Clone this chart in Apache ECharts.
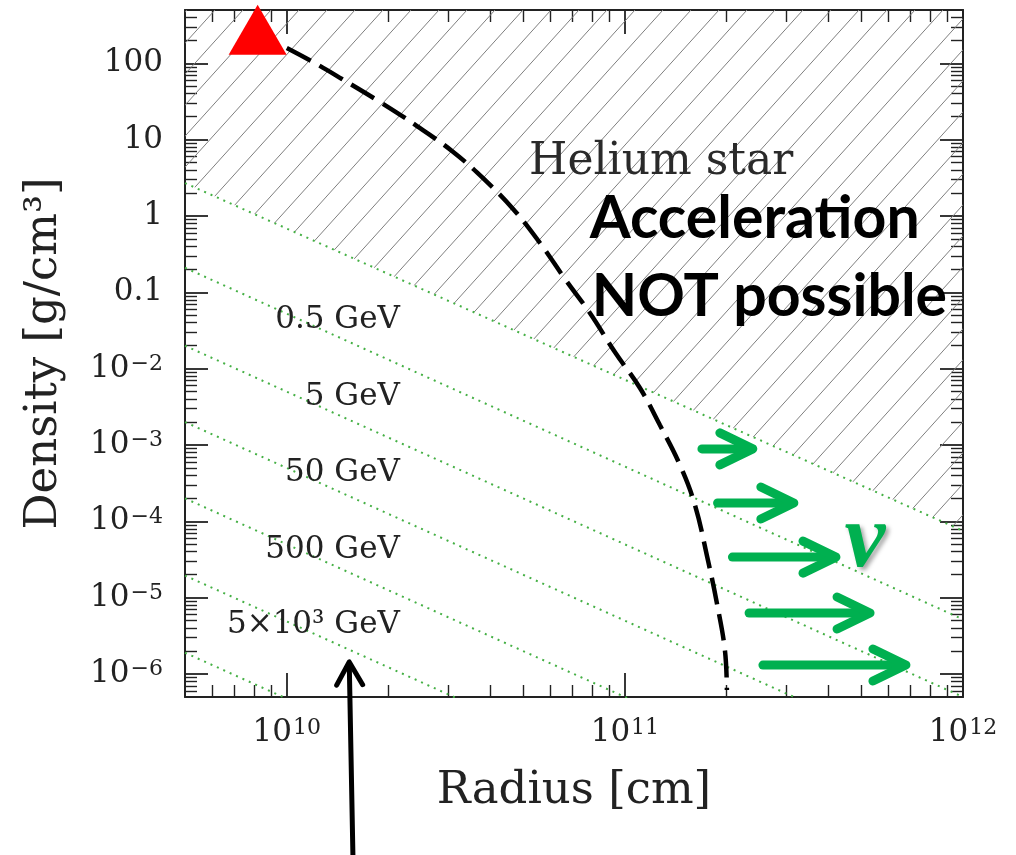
<!DOCTYPE html>
<html>
<head>
<meta charset="utf-8">
<script src="https://cdn.jsdelivr.net/npm/echarts@6/dist/echarts.min.js"></script>
<style>
  html, body { margin: 0; padding: 0; background: #fff; }
  #chart { width: 1016px; height: 855px; }
</style>
</head>
<body>
<div id="chart"></div>
<script>
var L = Math.log10;

// axis ranges (real units)
var rMin = 5e9, rMax = 1e12;
var rhoMin = 5e-7, rhoMax = 500;
var xMajor = [10, 11, 12];
var yMajor = [-6, -5, -4, -3, -2, -1, 0, 1, 2];

// density profile of the star (dashed curve)
var profR = [1.00e10, 1.196e10, 1.456e10, 1.886e10, 2.427e10, 3.08e10, 3.80e10, 4.67e10, 5.61e10, 6.65e10,
  7.88e10, 9.34e10, 1.108e11, 1.269e11, 1.455e11, 1.611e11, 1.760e11, 1.871e11, 1.976e11, 2.003e11];
var profRho = [159, 104, 62.4, 31.2, 15.1, 7.11, 3.15, 1.24, 0.443, 0.150,
  0.0536, 0.0165, 5.58e-3, 1.83e-3, 5.47e-4, 1.64e-4, 3.11e-5, 8.5e-6, 2.06e-6, 6.17e-7];

// red triangle (core)
var coreR = [8.2e9];
var coreRho = [275];

// energy lines: density at R = 5e9 and at R = 1e12 (first one bounds the hatched zone)
var lineRhoLeft = [2.7, 0.21, 0.020, 2.0e-3, 2.0e-4, 1.95e-5, 1.9e-6];
var lineRhoRight = [7.5e-5, 5.2e-6, 5.0e-7, 5.0e-8, 5.0e-9, 4.9e-10, 4.8e-11];

// energy labels
var gevText = ['0.5 GeV', '5 GeV', '50 GeV', '500 GeV', '5×10³ GeV'];
var gevR = [2.16e10, 2.16e10, 2.16e10, 2.16e10, 2.16e10];
var gevRho = [0.0435, 4.26e-3, 4.3e-4, 4.2e-5, 4.4e-6];

// green neutrino arrows
var arrowRho = [8.9e-4, 1.74e-4, 3.4e-5, 6.3e-6, 1.31e-6];
var arrowR0 = [1.69e11, 1.88e11, 2.08e11, 2.33e11, 2.56e11];
var arrowR1 = [2.39e11, 3.16e11, 4.21e11, 5.31e11, 6.78e11];

// black arrow below the plot
var pointerR = [1.57e10, 1.53e10];
var pointerRho = [3.66e-9, 1.44e-6];

// other annotations
var noteText = ['Helium star', 'Acceleration', 'NOT possible', 'ν'];
var noteR = [1.28e11, 7.87e10, 7.98e10, 5.13e11];
var noteRho = [4.95, 0.914, 0.0869, 5.4e-5];

var serif = 'DejaVu Serif';
var ink = '#222';
var green = '#00b050';
var dotGreen = '#45b045';

function minorTicks(lo, hi) {
  var out = [];
  for (var d = Math.floor(lo) - 1; d <= Math.ceil(hi); d++) {
    for (var k = 2; k <= 9; k++) {
      var v = d + L(k);
      if (v > lo + 1e-6 && v < hi - 1e-6) out.push(v);
    }
  }
  return out;
}
var xMin = L(rMin), xMax = L(rMax), yMin = L(rhoMin), yMax = L(rhoMax);
var xMinor = minorTicks(xMin, xMax);
var yMinor = minorTicks(yMin, yMax);

function hatchPattern() {
  var w = 28, h = 31;
  var c = document.createElement('canvas');
  c.width = w; c.height = h;
  var ctx = c.getContext('2d');
  ctx.strokeStyle = '#7f7f7f';
  ctx.lineWidth = 1;
  [-w, 0, w].forEach(function (o) {
    ctx.beginPath();
    ctx.moveTo(o - w * 0.2, h * 1.2);
    ctx.lineTo(o + w * 1.2, -h * 0.2);
    ctx.stroke();
  });
  return c;
}

var tickRich = {
  n: { fontSize: 31, fontFamily: serif, color: ink },
  sup: { fontSize: 22, fontFamily: serif, color: ink, verticalAlign: 'top', padding: [0, 0, 0, 1] }
};

function xAxisDef(pos, major) {
  return {
    type: 'value', min: xMin, max: xMax, position: pos,
    axisLine: { show: major, onZero: false, lineStyle: { color: ink, width: 2 } },
    axisTick: { show: true, inside: true, length: major ? 24 : 12,
      customValues: major ? xMajor : xMinor, lineStyle: { color: ink, width: major ? 1.8 : 1.4 } },
    axisLabel: { show: major && pos === 'bottom', customValues: xMajor, margin: 20,
      fontFamily: serif, fontSize: 31, color: ink, rich: tickRich,
      formatter: function (v) { return '{n|10}{sup|' + Math.round(v) + '}'; } },
    splitLine: { show: false },
    name: major && pos === 'bottom' ? 'Radius [cm]' : '',
    nameLocation: 'middle', nameGap: 72,
    nameTextStyle: { fontFamily: serif, fontSize: 45, color: ink }
  };
}

function yLabel(v) {
  v = Math.round(v);
  if (v === 2) return '{n|100}';
  if (v === 1) return '{n|10}';
  if (v === 0) return '{n|1}';
  if (v === -1) return '{n|0.1}';
  return '{n|10}{sup|−' + (-v) + '}';
}

function yAxisDef(pos, major) {
  return {
    type: 'value', min: yMin, max: yMax, position: pos,
    axisLine: { show: major, onZero: false, lineStyle: { color: ink, width: 2 } },
    axisTick: { show: true, inside: true, length: major ? 23 : 12,
      customValues: major ? yMajor : yMinor, lineStyle: { color: ink, width: major ? 1.8 : 1.4 } },
    axisLabel: { show: major && pos === 'left', customValues: yMajor, margin: 22,
      fontFamily: serif, fontSize: 31, color: ink, rich: tickRich, formatter: yLabel },
    splitLine: { show: false },
    name: major && pos === 'left' ? 'Density [g/cm³]' : '',
    nameLocation: 'middle', nameGap: 118, nameRotate: 90,
    nameTextStyle: { fontFamily: serif, fontSize: 45, color: ink }
  };
}

function arrowRenderer(color, width, headBack, headHalf) {
  return function (params, api) {
    var p0 = api.coord([api.value(0), api.value(1)]);
    var p1 = api.coord([api.value(2), api.value(3)]);
    var dx = p1[0] - p0[0], dy = p1[1] - p0[1];
    var len = Math.sqrt(dx * dx + dy * dy);
    var ux = dx / len, uy = dy / len;
    var a = [p1[0] - ux * headBack - uy * headHalf, p1[1] - uy * headBack + ux * headHalf];
    var b = [p1[0] - ux * headBack + uy * headHalf, p1[1] - uy * headBack - ux * headHalf];
    var tail = [p1[0] - ux * width * 0.6, p1[1] - uy * width * 0.6];
    function st() { return { stroke: color, lineWidth: width, lineCap: 'round', lineJoin: 'round', fill: null }; }
    return { type: 'group', children: [
      { type: 'polyline', shape: { points: [p0, tail] }, style: st() },
      { type: 'polyline', shape: { points: [a, p1, b] }, style: st() }
    ] };
  };
}

var series = [];

// energy lines (first one carries the hatched "no acceleration" zone above it)
lineRhoLeft.forEach(function (rl, i) {
  var s = {
    type: 'line', xAxisIndex: 0, yAxisIndex: 0, symbol: 'none', z: 2,
    data: [[xMin, L(rl)], [xMax, L(lineRhoRight[i])]],
    lineStyle: { color: dotGreen, width: 2, type: [2, 5] }
  };
  if (i === 0) {
    s.areaStyle = { origin: 'end', opacity: 1, color: { image: hatchPattern(), repeat: 'repeat' } };
    s.z = 1;
  }
  series.push(s);
});

series.push({
  type: 'line', symbol: 'none', z: 4, smooth: 0.4,
  data: profR.map(function (r, i) { return [L(r), L(profRho[i])]; }),
  lineStyle: { color: '#000', width: 4.5, type: [27, 10] }
});

series.push({
  type: 'scatter', z: 6, symbol: 'triangle', symbolSize: [58, 50],
  itemStyle: { color: '#ff0000', opacity: 1 },
  data: coreR.map(function (r, i) { return [L(r), L(coreRho[i])]; })
});

series.push({
  type: 'scatter', z: 5, symbolSize: 0, itemStyle: { opacity: 1 },
  data: gevText.map(function (t, i) {
    return { value: [L(gevR[i]), L(gevRho[i])], label: { formatter: t } };
  }),
  label: { show: true, position: 'inside', align: 'right', verticalAlign: 'middle', opacity: 1,
    fontFamily: serif, fontSize: 31, color: ink }
});

var noteStyles = [
  { align: 'center', fontFamily: serif, fontSize: 44, color: '#2a2a2a' },
  { align: 'left', fontFamily: 'Lato', fontWeight: 'bold', fontSize: 59, color: '#000' },
  { align: 'left', fontFamily: 'Lato', fontWeight: 'bold', fontSize: 59, color: '#000' },
  { align: 'center', fontFamily: 'Liberation Serif', fontStyle: 'italic', fontWeight: 'bold', fontSize: 92,
    color: green, textShadowColor: 'rgba(0,0,0,0.35)', textShadowBlur: 4, textShadowOffsetX: 3, textShadowOffsetY: 3 }
];
series.push({
  type: 'scatter', z: 5, symbolSize: 0, itemStyle: { opacity: 1 },
  data: noteText.map(function (t, i) {
    var lab = Object.assign({ formatter: t, show: true, position: 'inside', verticalAlign: 'middle', opacity: 1 }, noteStyles[i]);
    return { value: [L(noteR[i]), L(noteRho[i])], label: lab };
  })
});

series.push({
  type: 'custom', z: 7, clip: false,
  renderItem: arrowRenderer(green, 9, 33, 16),
  data: arrowRho.map(function (p, i) { return [L(arrowR0[i]), L(p), L(arrowR1[i]), L(p)]; })
});

series.push({
  type: 'custom', z: 7, clip: false,
  renderItem: arrowRenderer('#000', 5, 23, 13),
  data: [[L(pointerR[0]), L(pointerRho[0]), L(pointerR[1]), L(pointerRho[1])]]
});

var chart = echarts.init(document.getElementById('chart'));
chart.setOption({
  animation: false,
  backgroundColor: '#fff',
  grid: { left: 185, right: 53, top: 10, bottom: 158, containLabel: false, outerBoundsMode: 'none' },
  xAxis: [xAxisDef('bottom', true), xAxisDef('bottom', false), xAxisDef('top', true), xAxisDef('top', false)],
  yAxis: [yAxisDef('left', true), yAxisDef('left', false), yAxisDef('right', true), yAxisDef('right', false)],
  series: series
});
</script>
</body>
</html>
